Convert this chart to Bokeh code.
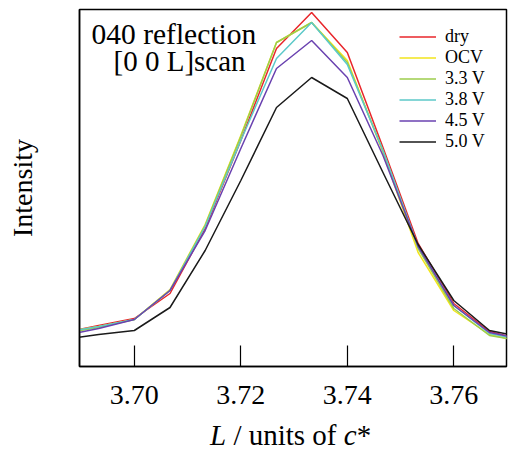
from bokeh.plotting import figure
from bokeh.models import Range1d, Label, FixedTicker, Div
from bokeh.layouts import column
from bokeh.embed import file_html
from bokeh.resources import INLINE

# L positions (units of c*)
L = [3.6867, 3.6933, 3.7000, 3.7067, 3.7133, 3.7200, 3.7267,
     3.7333, 3.7400, 3.7467, 3.7533, 3.7600, 3.7667, 3.7733]

# Intensities (arbitrary units)
dry  = [34, 41, 48, 73, 138, 226, 318, 354, 314, 219, 123, 63, 35, 26]
ocv  = [34, 40, 47, 77, 142, 231, 324, 344, 306, 214, 114, 56, 32, 24]
v3_3 = [33, 39, 47, 76, 141, 230, 324, 344, 304, 216, 118, 58, 31, 25]
v3_8 = [34, 40, 47, 76, 140, 226, 308, 344, 302, 216, 120, 61, 33, 26]
v4_5 = [31, 38, 47, 76, 136, 218, 298, 326, 289, 211, 120, 61, 34, 27]
v5_0 = [27, 32, 36, 59, 116, 186, 259, 289, 268, 194, 122, 66, 36, 29]

labels = ["dry", "OCV", "3.3 V", "3.8 V", "4.5 V", "5.0 V"]
colors = ["#e8262b", "#f2e51c", "#9ccd4c", "#5cc9c9", "#6a42b0", "#1a1a1a"]
series = [dry, ocv, v3_3, v3_8, v4_5, v5_0]

x_ticks = [3.70, 3.72, 3.74, 3.76]

SERIF = "Liberation Serif"

p = figure(frame_width=427, frame_height=357, output_backend="svg",
           toolbar_location=None, min_border_left=79, min_border_right=2,
           min_border_top=9, min_border_bottom=52,
           x_range=Range1d(3.6897, 3.7699), y_range=Range1d(0, 357))

for ys, lab, col in zip(series, labels, colors):
    p.line(L, ys, line_color=col, line_width=1.5, legend_label=lab)

p.xgrid.visible = False
p.ygrid.visible = False
p.outline_line_color = "black"
p.outline_line_width = 1.5

xa = p.xaxis[0]
xa.ticker = FixedTicker(ticks=x_ticks)
xa.major_label_overrides = {t: f"{t:.2f}" for t in x_ticks}
xa.major_tick_in = 21
xa.major_tick_out = 0
xa.minor_tick_line_color = None
xa.major_tick_line_width = 1.2
xa.axis_line_width = 1.5
xa.major_label_text_font = SERIF
xa.major_label_text_font_size = "28px"
xa.major_label_text_color = "black"
xa.major_label_standoff = 19

ya = p.yaxis[0]
ya.ticker = FixedTicker(ticks=[])
ya.minor_tick_line_color = None
ya.major_tick_line_color = None
ya.axis_line_width = 1.5
ya.axis_label = "Intensity"
ya.axis_label_text_font = SERIF
ya.axis_label_text_font_size = "28px"
ya.axis_label_text_font_style = "normal"
ya.axis_label_text_color = "black"
ya.axis_label_standoff = 42

xpx = lambda px: 3.6897 + (px - 79) / 5320.0

p.add_layout(Label(x=xpx(91), y=333, text="040 reflection",
                   text_font=SERIF, text_font_size="29.5px", text_color="black",
                   text_baseline="alphabetic"))
p.add_layout(Label(x=xpx(113), y=306, text="[0 0 L]scan",
                   text_font=SERIF, text_font_size="29px", text_color="black",
                   text_baseline="alphabetic"))

lg = p.legend[0]
lg.location = (320, 214)
lg.border_line_color = None
lg.background_fill_alpha = 0
lg.padding = 5
lg.margin = 0
lg.spacing = 0
lg.glyph_width = 37
lg.glyph_height = 21
lg.label_height = 21
lg.label_standoff = 9
lg.label_text_font = SERIF
lg.label_text_font_size = "18px"
lg.label_text_color = "black"

xlabel = Div(
    text=('<div style="font-family:\'Liberation Serif\'; font-size:29px; '
          'line-height:34px; padding-left:210px; padding-top:0px; '
          'color:black; white-space:nowrap;">'
          '<i>L</i> / units of <i>c</i>*</div>'),
    width=508, height=34, margin=0)

layout = column(p, xlabel, spacing=0)

open("out.html", "w").write(file_html(layout, INLINE))
